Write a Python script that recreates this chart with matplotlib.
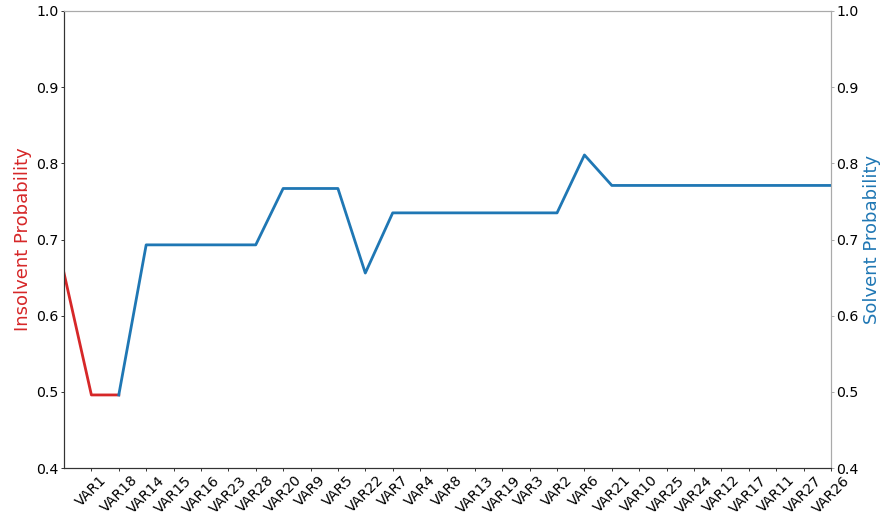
import matplotlib
matplotlib.use("Agg")
import matplotlib.pyplot as plt

labels = ["VAR1", "VAR18", "VAR14", "VAR15", "VAR16", "VAR23", "VAR28", "VAR20",
          "VAR9", "VAR5", "VAR22", "VAR7", "VAR4", "VAR8", "VAR13", "VAR19", "VAR3",
          "VAR2", "VAR6", "VAR21", "VAR10", "VAR25", "VAR24", "VAR12", "VAR17",
          "VAR11", "VAR27", "VAR26"]

insolvent_x = [0, 1, 2]
insolvent_prob = [0.656, 0.496, 0.496]

solvent_x = list(range(2, 29))
solvent_prob = [0.496, 0.693, 0.693, 0.693, 0.693, 0.693, 0.767, 0.767, 0.767,
                0.656, 0.735, 0.735, 0.735, 0.735, 0.735, 0.735, 0.735, 0.811,
                0.771, 0.771, 0.771, 0.771, 0.771, 0.771, 0.771, 0.771, 0.771]

fig = plt.figure(figsize=(8.84, 5.23), dpi=100)
ax1 = fig.add_axes([0.0724, 0.105, 0.8676, 0.874])
ax2 = ax1.twinx()

ax1.plot(insolvent_x, insolvent_prob, color="#d62728", lw=2.0)
ax2.plot(solvent_x, solvent_prob, color="#1f77b4", lw=2.0)

for ax in (ax1, ax2):
    ax.set_ylim(0.4, 1.0)
    ax.set_xlim(0, 28)
    ax.tick_params(labelsize=10.2, length=2.5, pad=1.2, width=0.7)

ax1.set_xticks(range(1, 29))
ax1.set_xticklabels(labels, rotation=45)
ax1.set_ylabel("Insolvent Probability", color="#d62728", fontsize=13, labelpad=3)
ax2.set_ylabel("Solvent Probability", color="#1f77b4", fontsize=13, labelpad=3)

dark = "#333333"
light = "#aaaaaa"
for ax in (ax1, ax2):
    ax.spines["left"].set_color(dark)
    ax.spines["bottom"].set_color(dark)
    ax.spines["top"].set_color(light)
    ax.spines["right"].set_color(light)
ax1.tick_params(axis="y", color=dark)
ax1.tick_params(axis="x", color=dark)
ax2.tick_params(axis="y", color=light)

fig.savefig("out.png", dpi=100)
